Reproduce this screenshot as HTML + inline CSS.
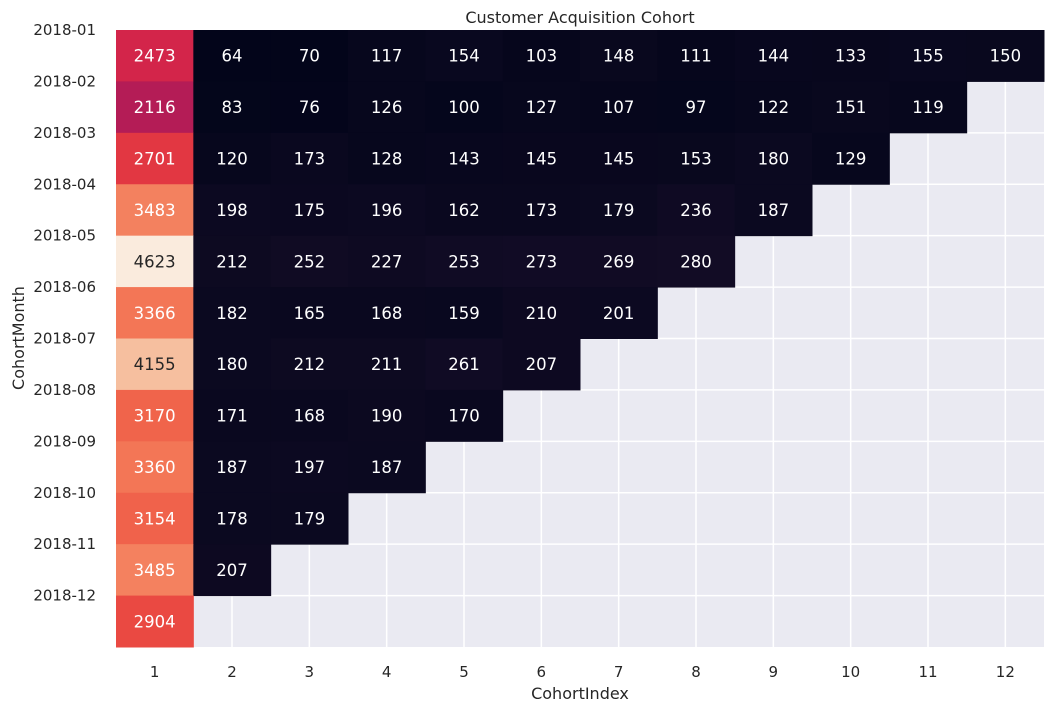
<!DOCTYPE html>
<html><head><meta charset="utf-8"><style>
body{margin:0;background:#fff;}
svg text{font-family:"DejaVu Sans","Liberation Sans",sans-serif;}
</style></head><body>
<svg id="chart" width="1054" height="714" xmlns="http://www.w3.org/2000/svg">
<rect x="116" y="30" width="928" height="617" fill="#EAEAF2"/>
<g id="grid"></g><g id="cells"></g><g id="ticks"></g>
<text x="580" y="23" font-size="16" text-anchor="middle" fill="#262626">Customer Acquisition Cohort</text>
<text x="580" y="699" font-size="16" text-anchor="middle" fill="#262626">CohortIndex</text>
<text transform="translate(24,338) rotate(-90)" font-size="16" text-anchor="middle" fill="#262626">CohortMonth</text>
</svg>
<script>
const months=["2018-01","2018-02","2018-03","2018-04","2018-05","2018-06","2018-07","2018-08","2018-09","2018-10","2018-11","2018-12"];
const indices=["1","2","3","4","5","6","7","8","9","10","11","12"];
const r01=[2473,64,70,117,154,103,148,111,144,133,155,150];
const r02=[2116,83,76,126,100,127,107,97,122,151,119];
const r03=[2701,120,173,128,143,145,145,153,180,129];
const r04=[3483,198,175,196,162,173,179,236,187];
const r05=[4623,212,252,227,253,273,269,280];
const r06=[3366,182,165,168,159,210,201];
const r07=[4155,180,212,211,261,207];
const r08=[3170,171,168,190,170];
const r09=[3360,187,197,187];
const r10=[3154,178,179];
const r11=[3485,207];
const r12=[2904];
const rows=[r01,r02,r03,r04,r05,r06,r07,r08,r09,r10,r11,r12];

const L=116,R=1044,T=30,B=647;
const cw=(R-L)/indices.length, ch=(B-T)/months.length;
const xPos=i=>L+i*cw, yPos=j=>T+j*ch;
const all=rows.flat(), vmin=Math.min(...all), vmax=Math.max(...all);
const stops=[[0,[3,5,26]],[0.1,[34,19,49]],[0.2,[69,28,71]],[0.3,[112,31,87]],[0.4,[157,29,93]],[0.5,[203,27,79]],[0.6,[232,63,63]],[0.7,[242,108,78]],[0.8,[245,150,112]],[0.9,[246,192,160]],[1,[250,235,221]]];
function col(v){let t=(v-vmin)/(vmax-vmin);t=Math.max(0,Math.min(1,t));
 for(let k=1;k<stops.length;k++){if(t<=stops[k][0]){const a=stops[k-1],b=stops[k],f=(t-a[0])/(b[0]-a[0]);
  return a[1].map((c,i)=>Math.round(c+(b[1][i]-c)*f));}}return stops[stops.length-1][1];}
const NS="http://www.w3.org/2000/svg";
const mk=(t,a)=>{const e=document.createElementNS(NS,t);for(const k in a)e.setAttribute(k,a[k]);return e;};
const grid=document.getElementById('grid'),cells=document.getElementById('cells'),ticks=document.getElementById('ticks');
indices.forEach((lab,i)=>{
 const x=xPos(i)+cw/2;
 const g=mk('line',{x1:x,x2:x,y1:T,y2:B,stroke:'#fff','stroke-width':1.5});
 
 
 grid.appendChild(g);
 const t=mk('text',{x:x,y:B+30,'font-size':15,'text-anchor':'middle',fill:'#262626'});t.textContent=lab;
 
 
 ticks.appendChild(t);
});
months.forEach((lab,j)=>{
 const y=yPos(j);
 const g=mk('line',{x1:L,x2:R,y1:y,y2:y,stroke:'#fff','stroke-width':1.5});
 
 
 grid.appendChild(g);
 const t=mk('text',{x:L-20,y:y+5,'font-size':15,'text-anchor':'end',fill:'#262626'});t.textContent=lab;
 
 
 ticks.appendChild(t);
});
rows.forEach((row,j)=>row.forEach((v,i)=>{
 const c=col(v);
 const r=mk('rect',{x:xPos(i),y:yPos(j),width:cw+0.5,height:ch+0.5,fill:`rgb(${c})`});
 
 
 cells.appendChild(r);
 const lum=c.map(x=>{x/=255;return x<=0.03928?x/12.92:Math.pow((x+0.055)/1.055,2.4);});
 const Lm=0.2126*lum[0]+0.7152*lum[1]+0.0722*lum[2];
 const t=mk('text',{x:xPos(i)+cw/2,y:yPos(j)+ch/2+6,'font-size':16.5,'text-anchor':'middle',fill:Lm>0.408?'#262626':'#fff'});
 t.textContent=v;
 
 
 cells.appendChild(t);
}));
</script>
</body></html>
